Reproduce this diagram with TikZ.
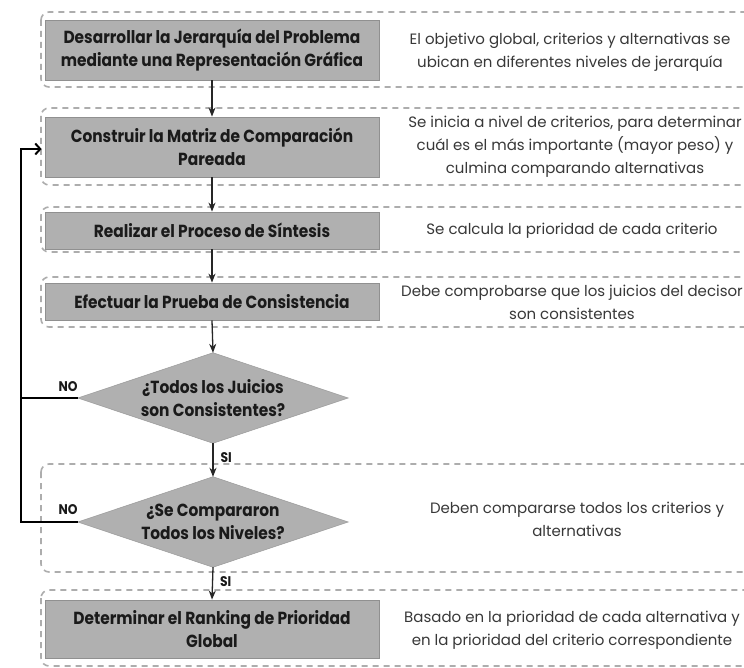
\documentclass[tikz,border=0pt]{standalone}
\usepackage{fontspec}
\setmainfont{Poppins}
\newfontfamily\stepfont{Poppins}[FakeStretch=0.88]
\usetikzlibrary{arrows.meta}
\definecolor{boxfill}{HTML}{B0B0B0}
\definecolor{boxline}{HTML}{909090}
\definecolor{dashgray}{HTML}{ADADAD}
\definecolor{desctext}{HTML}{383838}
\definecolor{steptext}{HTML}{1A1A1A}
\tikzset{
  container/.style={draw=dashgray, line width=1.6pt, dash pattern=on 6pt off 5pt, rounded corners=8pt},
  stepbox/.style={draw=boxline, fill=boxfill, line width=0.8pt, minimum width=334pt,
    align=center, text=steptext, font=\stepfont\bfseries\fontsize{17.5}{23}\selectfont, inner sep=0pt},
  decision/.style={minimum width=270pt, minimum height=90pt, align=center, inner sep=0pt,
    text=steptext, font=\stepfont\bfseries\fontsize{17.5}{23}\selectfont},
  diamondfill/.style={fill=boxfill, draw=boxfill!90!black, line width=0.6pt},
  desc/.style={align=center, text=desctext, font=\fontsize{15}{23}\selectfont},
  flow/.style={draw=black!85, line width=1.3pt, -{Stealth[length=9pt,width=7pt]}},
  loop/.style={draw=black, line width=2pt},
  loopend/.style={loop, -{Straight Barb[length=5pt,width=11pt,line width=2pt]}},
  tag/.style={font=\stepfont\bfseries\fontsize{14}{16}\selectfont, text=steptext, inner sep=1pt},
}
\begin{document}
\begin{tikzpicture}[x=1pt,y=-1pt]
\useasboundingbox (0,0) rectangle (744,668);
\fill[white] (0,0) rectangle (744,668);
\clip (0,0) rectangle (744,668);

% dashed row frames
\draw[container] (41,12) rectangle (790,87);
\draw[container] (41,108) rectangle (790,185);
\draw[container] (41,207) rectangle (790,252);
\draw[container] (41,277) rectangle (790,327);
\draw[container] (41,464) rectangle (790,572);
\draw[container] (41,590) rectangle (790,666);

% process steps
\node[stepbox, minimum height=60pt] (s1) at (212,50) {Desarrollar la Jerarquía del Problema\\mediante una Representación Gráfica};
\node[stepbox, minimum height=60pt] (s2) at (212,147) {Construir la Matriz de Comparación\\Pareada};
\node[stepbox, minimum height=37pt] (s3) at (212,230.5) {Realizar el Proceso de Síntesis};
\node[stepbox, minimum height=37pt] (s4) at (212,301.5) {Efectuar la Prueba de Consistencia};
\node[stepbox, minimum height=58pt] (s6) at (212,629) {Determinar el Ranking de Prioridad\\Global};

% decisions
\node[decision] (d1) at (213,398) {};
\node[decision] (d2) at (213,522) {};
\filldraw[diamondfill] (d1.north) -- (d1.east) -- (d1.south) -- (d1.west) -- cycle;
\filldraw[diamondfill] (d2.north) -- (d2.east) -- (d2.south) -- (d2.west) -- cycle;
\node[decision] at (d1) {¿Todos los Juicios\\son Consistentes?};
\node[decision] at (d2) {¿Se Compararon\\Todos los Niveles?};

% descriptions
\node[desc] (t1) at (570,52) {El objetivo global, criterios y alternativas se\\ubican en diferentes niveles de jerarquía};
\node[desc] (t2) at (575,147) {Se inicia a nivel de criterios, para determinar\\cuál es el más importante (mayor peso) y\\culmina comparando alternativas};
\node[desc] (t3) at (572,231) {Se calcula la prioridad de cada criterio};
\node[desc] (t4) at (572,302) {Debe comprobarse que los juicios del decisor\\son consistentes};
\node[desc] (t5) at (577,519) {Deben compararse todos los criterios y\\alternativas};
\node[desc] (t6) at (572,630) {Basado en la prioridad de cada alternativa y\\en la prioridad del criterio correspondiente};

% main flow
\draw[flow] (s1.south) -- (s2.north);
\draw[flow] (s2.south) -- (s3.north);
\draw[flow] (s3.south) -- (s4.north);
\draw[flow] (s4.south) -- (d1.north);
\draw[flow] (d1.south) -- node[tag, anchor=west, xshift=6pt, yshift=2pt] (si1) {SI} (d2.north);
\draw[flow] (d2.south) -- node[tag, anchor=west, xshift=6pt, yshift=2pt] (si2) {SI} (s6.north);

% return loop
\coordinate (lx) at (21,0);
\draw[loop] (d1.west) -- (d1.west -| lx);
\draw[loopend] (d2.west) -- (d2.west -| lx) -- (lx |- 0,149) -- ([xshift=-3pt]s2.west |- 0,149);
\node[tag] (no1) at (68,387) {NO};
\node[tag] (no2) at (68,510) {NO};
\end{tikzpicture}
\end{document}
